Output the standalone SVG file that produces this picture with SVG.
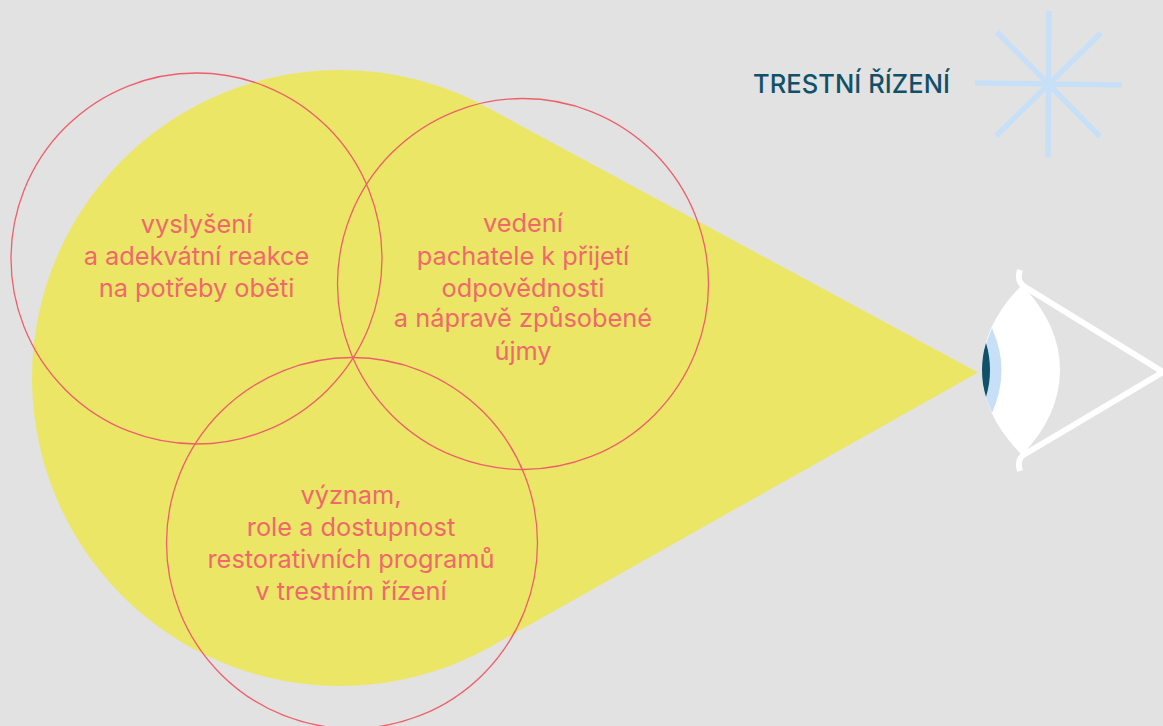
<svg xmlns="http://www.w3.org/2000/svg" width="1163" height="726" viewBox="0 0 1163 726">
<style>
.t{font-family:Inter,"Liberation Sans",sans-serif;font-size:25.350px;font-weight:400;fill:#f0686c;text-anchor:middle}
.c{fill:none;stroke:#ee5f6a;stroke-width:1.300}
.s{stroke:#c8e0f7;stroke-width:5.500;fill:none}
</style>
<rect width="1163" height="726" fill="#e2e2e2"/>
<g id="beam"><path d="M978 372.500L488.800 108.300A308 308 0 1 0 488.800 647.700Z" fill="#ece667"/></g>
<g id="circle-1"><circle class="c" cx="196.500" cy="258.500" r="185.500"/>
<text class="t"><tspan x="196.500" y="233">vyslyšení</tspan><tspan x="196.500" y="265">a adekvátní reakce</tspan><tspan x="196.500" y="297">na potřeby oběti</tspan></text></g>
<g id="circle-2"><circle class="c" cx="523" cy="284" r="185.500"/>
<text class="t"><tspan x="523" y="232">vedení</tspan><tspan x="523" y="265">pachatele k přijetí</tspan><tspan x="523" y="297">odpovědnosti</tspan><tspan x="523" y="327">a nápravě způsobené</tspan><tspan x="523" y="360">újmy</tspan></text></g>
<g id="circle-3"><circle class="c" cx="352" cy="543" r="185.500"/>
<text class="t"><tspan x="351" y="504">význam,</tspan><tspan x="351" y="536">role a dostupnost</tspan><tspan x="351" y="568">restorativních programů</tspan><tspan x="351" y="600">v trestním řízení</tspan></text></g>
<g id="label"><text x="753" y="93" font-family="Inter,'Liberation Sans',sans-serif" font-size="25.500" font-weight="500" fill="#115168" textLength="197">TRESTNÍ ŘÍZENÍ</text></g>
<g id="star"><path class="s" d="M1049 11L1048 157.500M975 83L1122 85M997 32L1100 136.500M1101 33L996 136"/></g>
<g id="eye">
<path d="M1022 285Q1060 325 1060 370Q1060 415 1022 455Q982 415 982 370Q982 325 1022 285Z" fill="#fff"/>
<path d="M992 328Q1001.500 350 1001.500 370Q1001.500 392 992 413Q982 392 982 370Q982 350 992 328Z" fill="#c8e0f7"/>
<path d="M986 343Q990 356 990 370Q990 384 986 397Q982 384 982 370Q982 356 986 343Z" fill="#115168"/>
<path d="M1020 270C1017 280 1020 284 1025 287L1163 372L1025 454C1020 457 1017 461 1020 471" fill="none" stroke="#fff" stroke-width="6"/>
</g>
</svg>
